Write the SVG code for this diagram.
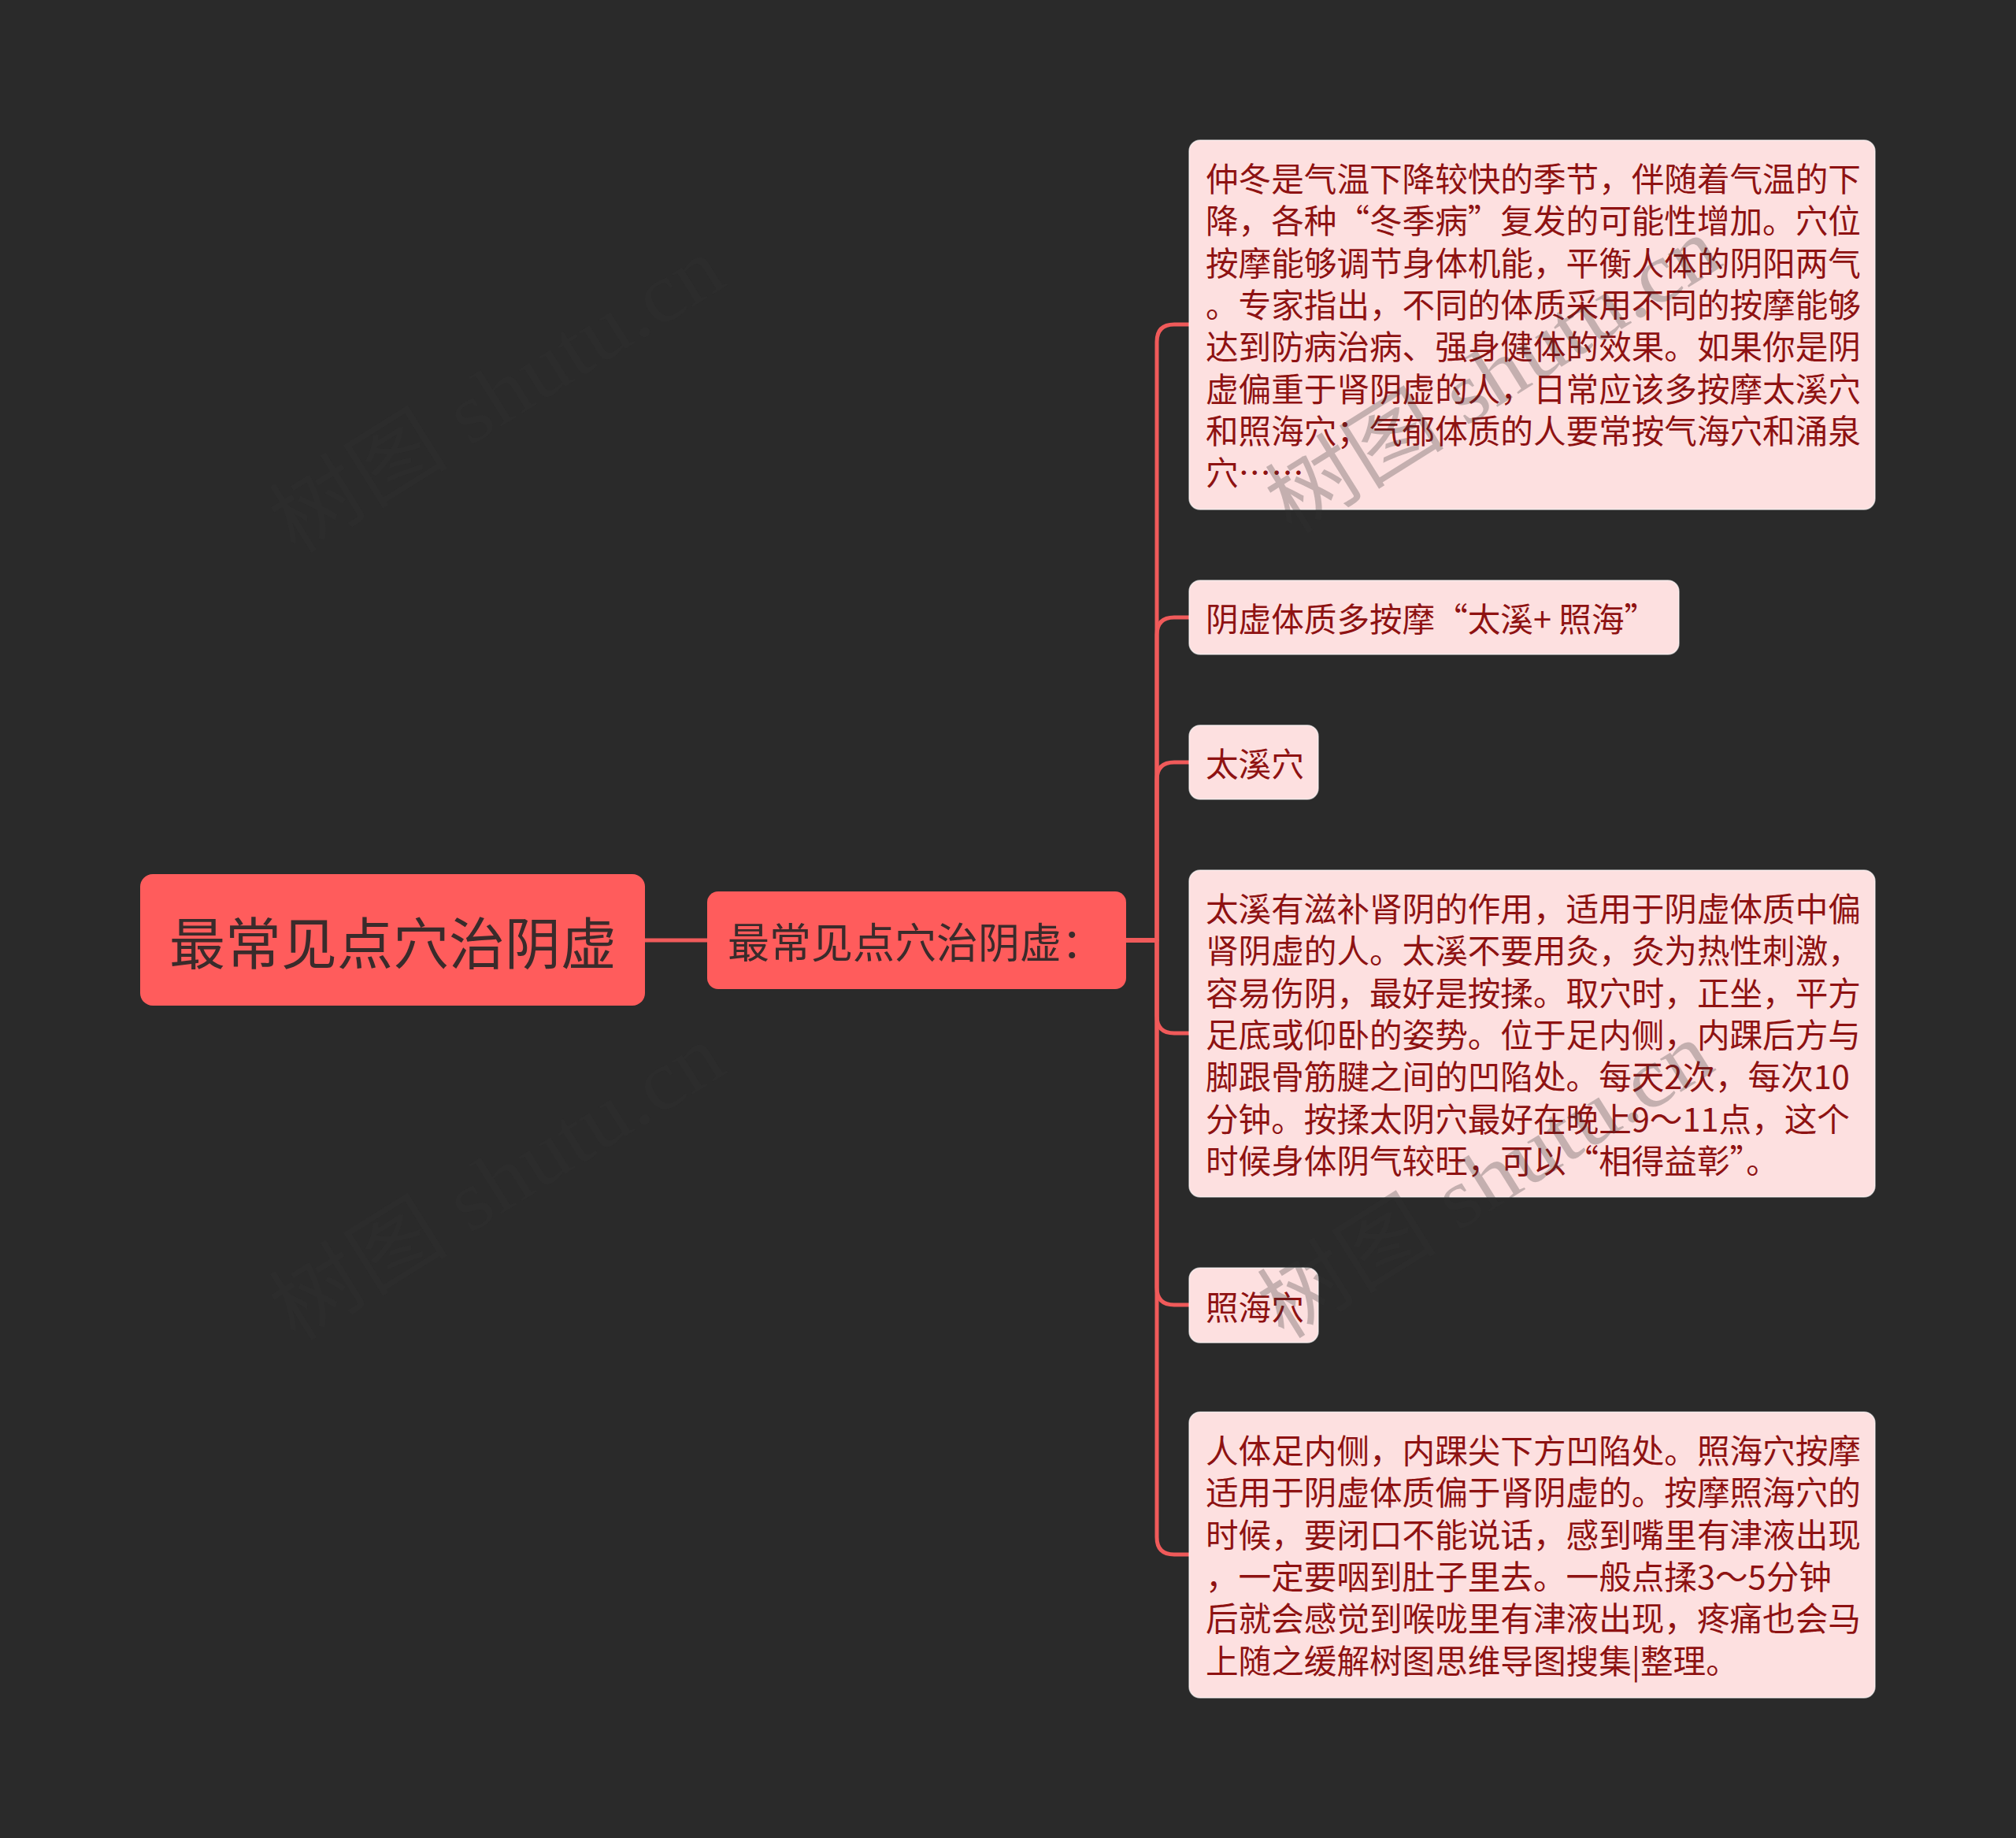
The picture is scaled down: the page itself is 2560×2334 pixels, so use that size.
<svg xmlns="http://www.w3.org/2000/svg" width="2560" height="2334" viewBox="0 0 2560 2334">
<style>
.bg{fill:#2a2a2a}
.root rect{fill:#ff5c5c}
.root text{font-family:"Noto Sans CJK SC","Liberation Sans",sans-serif;font-size:71px;fill:#3a2b2b;dominant-baseline:central;text-anchor:middle}
.mid rect{fill:#ff5c5c}
.mid text{font-family:"Noto Sans CJK SC","Liberation Sans",sans-serif;font-size:53px;fill:#3a2b2b;dominant-baseline:central}
.leaf rect{fill:#fde0e0;stroke:#ffffff;stroke-opacity:0.6;stroke-width:1.5}
.leaf text{font-family:"Noto Sans CJK SC","Liberation Sans",sans-serif;font-size:41.6px;fill:#8e1212;dominant-baseline:central}
.conn path{fill:none;stroke:#f05a5a;stroke-width:5;stroke-linecap:round;stroke-linejoin:round}
.wm text{font-family:"Liberation Serif","Noto Sans CJK SC",serif;font-size:108px;fill:#333333;fill-opacity:0.28}
</style>
<rect class="bg" x="0" y="0" width="2560" height="2334"/>
<g id="connectors" class="conn">
<path d="M819 1194 H898"/>
<path d="M1430 1194 H1469 V434 Q1469 412 1491 412 H1510"/>
<path d="M1430 1194 H1469 V806 Q1469 784 1491 784 H1510"/>
<path d="M1430 1194 H1469 V990 Q1469 968 1491 968 H1510"/>
<path d="M1430 1194 H1469 V1290 Q1469 1312 1491 1312 H1510"/>
<path d="M1430 1194 H1469 V1635 Q1469 1657 1491 1657 H1510"/>
<path d="M1430 1194 H1469 V1952 Q1469 1974 1491 1974 H1510"/>
</g>
<g id="root" class="root">
<rect x="178" y="1110" width="641" height="167" rx="16"/>
<text x="499" y="1193">最常见点穴治阴虚</text>
</g>
<g id="mid" class="mid">
<rect x="898" y="1132" width="532" height="124" rx="14"/>
<text x="924" y="1194">最常见点穴治阴虚：</text>
</g>
<g id="n1" class="leaf">
<rect x="1510" y="178" width="871" height="469" rx="14"/>
<text x="1531" y="225">仲冬是气温下降较快的季节，伴随着气温的下</text>
<text x="1531" y="278.3">降，各种“冬季病”复发的可能性增加。穴位</text>
<text x="1531" y="331.7">按摩能够调节身体机能，平衡人体的阴阳两气</text>
<text x="1531" y="385">。专家指出，不同的体质采用不同的按摩能够</text>
<text x="1531" y="438.3">达到防病治病、强身健体的效果。如果你是阴</text>
<text x="1531" y="491.7">虚偏重于肾阴虚的人，日常应该多按摩太溪穴</text>
<text x="1531" y="545">和照海穴；气郁体质的人要常按气海穴和涌泉</text>
<text x="1531" y="598.3">穴……</text>
</g>
<g id="n2" class="leaf">
<rect x="1510" y="737" width="622" height="94" rx="14"/>
<text x="1531" y="784">阴虚体质多按摩“太溪+ 照海”</text>
</g>
<g id="n3" class="leaf">
<rect x="1510" y="921" width="164" height="94" rx="14"/>
<text x="1531" y="968">太溪穴</text>
</g>
<g id="n4" class="leaf">
<rect x="1510" y="1105" width="871" height="415" rx="14"/>
<text x="1531" y="1152">太溪有滋补肾阴的作用，适用于阴虚体质中偏</text>
<text x="1531" y="1205.3">肾阴虚的人。太溪不要用灸，灸为热性刺激，</text>
<text x="1531" y="1258.7">容易伤阴，最好是按揉。取穴时，正坐，平方</text>
<text x="1531" y="1312">足底或仰卧的姿势。位于足内侧，内踝后方与</text>
<text x="1531" y="1365.3">脚跟骨筋腱之间的凹陷处。每天2次，每次10</text>
<text x="1531" y="1418.7">分钟。按揉太阴穴最好在晚上9～11点，这个</text>
<text x="1531" y="1472">时候身体阴气较旺，可以“相得益彰”。</text>
</g>
<g id="n5" class="leaf">
<rect x="1510" y="1610" width="164" height="95" rx="14"/>
<text x="1531" y="1657.5">照海穴</text>
</g>
<g id="n6" class="leaf">
<rect x="1510" y="1793" width="871" height="363" rx="14"/>
<text x="1531" y="1840">人体足内侧，内踝尖下方凹陷处。照海穴按摩</text>
<text x="1531" y="1893.3">适用于阴虚体质偏于肾阴虚的。按摩照海穴的</text>
<text x="1531" y="1946.7">时候，要闭口不能说话，感到嘴里有津液出现</text>
<text x="1531" y="2000">，一定要咽到肚子里去。一般点揉3～5分钟</text>
<text x="1531" y="2053.3">后就会感觉到喉咙里有津液出现，疼痛也会马</text>
<text x="1531" y="2106.7">上随之缓解树图思维导图搜集|整理。</text>
</g>
<g id="watermarks" class="wm">
<text x="375" y="705" transform="rotate(-32 375 705)" textLength="650" lengthAdjust="spacingAndGlyphs">树图 shutu.cn</text>
<text x="1640" y="680" transform="rotate(-32 1640 680)" textLength="650" lengthAdjust="spacingAndGlyphs">树图 shutu.cn</text>
<text x="375" y="1705" transform="rotate(-32 375 1705)" textLength="650" lengthAdjust="spacingAndGlyphs">树图 shutu.cn</text>
<text x="1630" y="1702" transform="rotate(-32 1630 1702)" textLength="650" lengthAdjust="spacingAndGlyphs">树图 shutu.cn</text>
</g>
</svg>
